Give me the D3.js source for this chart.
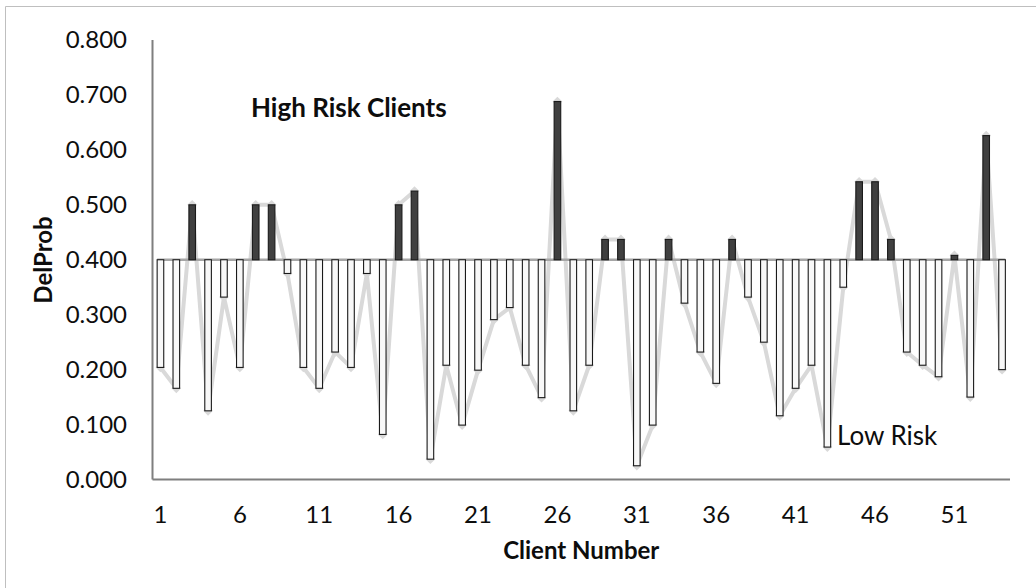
<!DOCTYPE html>
<html>
<head>
<meta charset="utf-8">
<script src="https://cdn.jsdelivr.net/npm/d3@7"></script>
<style>
  html, body { margin: 0; padding: 0; background: #ffffff; }
  svg { display: block; }
  text { font-family: Lato, "Open Sans", sans-serif; fill: #0d0d0d; }
</style>
</head>
<body>
<svg id="chart" width="1036" height="588"></svg>
<script>
// Client numbers on the horizontal axis
const clients = d3.range(1, 55);

// Delinquency probability per client
const delProb = [
  0.204, 0.166, 0.500, 0.125, 0.332, 0.204, 0.500, 0.500, 0.375, 0.204,
  0.166, 0.232, 0.204, 0.375, 0.082, 0.500, 0.525, 0.037, 0.208, 0.099,
  0.199, 0.291, 0.313, 0.208, 0.149, 0.688, 0.125, 0.208, 0.437, 0.437,
  0.025, 0.099, 0.437, 0.321, 0.232, 0.175, 0.437, 0.332, 0.250, 0.116,
  0.166, 0.208, 0.059, 0.350, 0.542, 0.542, 0.437, 0.232, 0.208, 0.187,
  0.408, 0.150, 0.626, 0.200
];

// Risk threshold the bars hang from
const threshold = 0.4;

// Axis tick labels
const yTicks = [0, 0.1, 0.2, 0.3, 0.4, 0.5, 0.6, 0.7, 0.8];
const xTickLabels = [1, 6, 11, 16, 21, 26, 31, 36, 41, 46, 51];

const svg = d3.select("#chart");
const plot = { left: 152.5, right: 1010, top: 40, bottom: 479.5 };

const x = d3.scaleBand()
  .domain(clients)
  .range([plot.left, plot.right])
  .paddingInner(0.585)
  .paddingOuter(0.2925);

const y = d3.scaleLinear()
  .domain([0, 0.8])
  .range([plot.bottom, plot.top]);

const cx = d => x(d) + x.bandwidth() / 2;

// Outer frame (left and top edges)
svg.append("path")
  .attr("d", "M5.5,588 L5.5,6.5 L1036,6.5")
  .attr("fill", "none")
  .attr("stroke", "#bfbfbf")
  .attr("stroke-width", 1);

// Axis lines
svg.append("line")
  .attr("x1", plot.left).attr("x2", plot.left)
  .attr("y1", plot.top).attr("y2", plot.bottom)
  .attr("stroke", "#7f7f7f").attr("stroke-width", 2);
svg.append("line")
  .attr("x1", plot.left).attr("x2", plot.right)
  .attr("y1", plot.bottom).attr("y2", plot.bottom)
  .attr("stroke", "#7f7f7f").attr("stroke-width", 2);

// Y tick labels
svg.append("g").selectAll("text")
  .data(yTicks)
  .join("text")
  .attr("x", 127)
  .attr("y", d => y(d))
  .attr("dy", "0.35em")
  .attr("text-anchor", "end")
  .attr("font-size", 24)
  .text(d => d3.format(".3f")(d));

// X tick labels
svg.append("g").selectAll("text")
  .data(xTickLabels)
  .join("text")
  .attr("x", d => cx(d))
  .attr("y", 515)
  .attr("dy", "0.35em")
  .attr("text-anchor", "middle")
  .attr("font-size", 24)
  .text(d => d);

// Connecting line with diamond markers (behind the bars)
const pts = clients.map((c, i) => [cx(c), y(delProb[i])]);
svg.append("path")
  .datum(pts)
  .attr("d", d3.line())
  .attr("fill", "none")
  .attr("stroke", "#d9d9d9")
  .attr("stroke-width", 4)
  .attr("stroke-linejoin", "round");

svg.append("g").selectAll("path")
  .data(pts)
  .join("path")
  .attr("transform", d => `translate(${d[0]},${d[1]})`)
  .attr("d", d3.symbol(d3.symbolDiamond2, 60))
  .attr("fill", "#d9d9d9");

// Threshold baseline
svg.append("line")
  .attr("x1", x(clients[0]))
  .attr("x2", x(clients[clients.length - 1]) + x.bandwidth())
  .attr("y1", y(threshold)).attr("y2", y(threshold))
  .attr("stroke", "#a6a6a6").attr("stroke-width", 2.5);

// Bars drawn from the threshold up (high risk) or down (low risk)
svg.append("g").selectAll("rect")
  .data(clients.map((c, i) => ({ c, v: delProb[i] })))
  .join("rect")
  .attr("x", d => x(d.c))
  .attr("width", x.bandwidth())
  .attr("y", d => y(Math.max(d.v, threshold)))
  .attr("height", d => Math.abs(y(d.v) - y(threshold)))
  .attr("fill", d => d.v > threshold ? "#404040" : "#f8f8f8")
  .attr("stroke", "#1a1a1a")
  .attr("stroke-width", 1.1);

// Annotations
svg.append("text")
  .attr("x", 251).attr("y", 117)
  .attr("font-size", 26).attr("font-weight", "bold")
  .text("High Risk Clients");

svg.append("text")
  .attr("x", 837).attr("y", 445)
  .attr("font-size", 26)
  .text("Low Risk");

// Axis titles
svg.append("text")
  .attr("x", (plot.left + plot.right) / 2).attr("y", 559)
  .attr("text-anchor", "middle")
  .attr("font-size", 24).attr("font-weight", "bold")
  .text("Client Number");

svg.append("text")
  .attr("transform", "translate(52,260) rotate(-90)")
  .attr("text-anchor", "middle")
  .attr("font-size", 24).attr("font-weight", "bold")
  .text("DelProb");
</script>
</body>
</html>
